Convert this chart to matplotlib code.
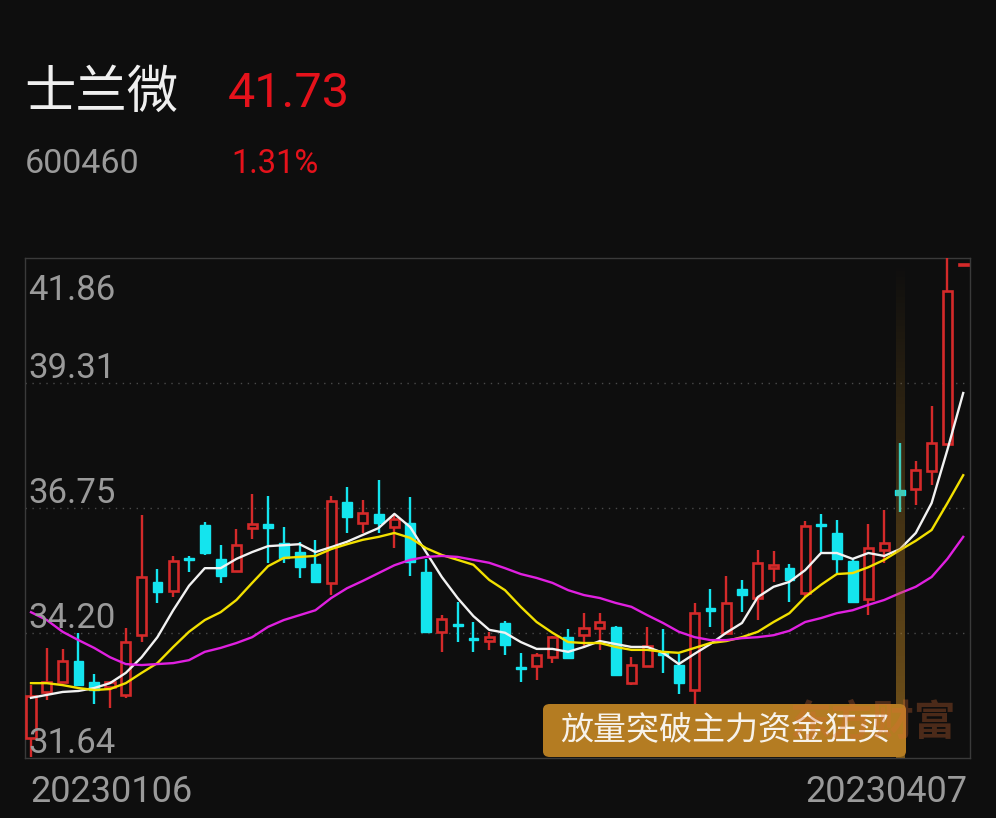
import numpy as np
import matplotlib.pyplot as plt
from matplotlib.patches import Rectangle, FancyBboxPatch

plt.rcParams['font.family'] = ['Roboto', 'Noto Sans CJK SC', 'DejaVu Sans']

# daily candles, 2023-01-06 .. 2023-04-07
opens = [32.05, 32.99, 33.19, 33.62, 33.19, 33.09, 32.93, 34.15, 35.24, 35.05,
         35.73, 36.40, 35.71, 35.46, 36.34, 36.42, 36.03, 35.85, 35.61, 35.22,
         36.87, 36.44, 36.63, 36.36, 36.44, 35.44, 34.22, 34.38, 34.09, 34.03,
         34.40, 33.50, 33.52, 33.70, 34.11, 34.15, 34.30, 34.32, 33.17, 33.52,
         33.79, 33.54, 33.03, 34.71, 34.20, 35.09, 34.91, 35.52, 35.52, 35.01,
         36.42, 36.24, 35.67, 34.89, 35.89, 37.12, 37.14, 37.51, 38.06, 41.71]
closes = [32.91, 33.19, 33.62, 33.13, 33.03, 33.19, 34.01, 35.34, 35.03, 35.67,
          35.69, 35.83, 35.36, 35.99, 36.42, 36.34, 35.73, 35.54, 35.24, 36.89,
          36.57, 36.65, 36.44, 36.53, 35.65, 34.22, 34.48, 34.34, 34.05, 34.11,
          33.95, 33.46, 33.75, 34.11, 33.68, 34.30, 34.42, 33.34, 33.54, 33.93,
          33.75, 33.17, 34.60, 34.64, 34.81, 34.97, 35.63, 35.59, 35.28, 36.38,
          36.38, 35.71, 34.83, 35.93, 36.03, 37.02, 37.53, 38.08, 41.19, 41.73]
highs = [33.13, 33.89, 33.87, 34.20, 33.36, 33.21, 34.30, 36.61, 35.50, 35.77,
         35.77, 36.46, 35.99, 36.32, 37.04, 37.00, 36.36, 36.06, 36.10, 37.00,
         37.18, 36.91, 37.32, 36.63, 36.98, 35.71, 34.56, 34.83, 34.42, 34.22,
         34.44, 33.79, 33.79, 34.13, 34.28, 34.60, 34.60, 34.34, 33.70, 34.32,
         34.28, 33.77, 34.81, 35.09, 35.36, 35.28, 35.89, 35.87, 35.61, 36.48,
         36.63, 36.50, 35.73, 36.42, 36.71, 38.08, 37.71, 38.83, 41.86, 41.74]
lows = [31.66, 32.83, 33.17, 33.11, 32.74, 32.66, 32.87, 34.01, 34.81, 34.93,
        35.44, 35.79, 35.22, 35.44, 36.12, 35.63, 35.63, 35.32, 35.22, 34.97,
        36.24, 36.24, 36.24, 35.93, 35.36, 34.20, 33.81, 34.01, 33.81, 33.85,
        33.75, 33.19, 33.23, 33.58, 33.66, 33.89, 33.85, 33.32, 33.13, 33.50,
        33.38, 32.95, 32.66, 34.32, 34.18, 34.62, 34.46, 35.24, 34.83, 34.93,
        35.85, 35.42, 34.81, 34.56, 35.63, 36.67, 36.81, 37.22, 38.04, 41.70]

ma5 = [32.87, 32.93, 32.99, 33.01, 33.07, 33.17, 33.38, 33.70, 34.11, 34.66,
       35.16, 35.52, 35.52, 35.71, 35.85, 35.97, 35.99, 36.01, 35.85, 35.95,
       36.06, 36.20, 36.34, 36.63, 36.36, 35.85, 35.34, 34.91, 34.54, 34.26,
       34.20, 34.01, 33.87, 33.87, 33.81, 33.91, 34.03, 33.97, 33.91, 33.91,
       33.79, 33.56, 33.77, 33.97, 34.20, 34.40, 34.93, 35.14, 35.24, 35.48,
       35.83, 35.83, 35.71, 35.83, 35.77, 35.91, 36.24, 36.85, 37.94, 39.10]
ma10 = [33.17, 33.17, 33.13, 33.07, 33.03, 33.05, 33.17, 33.38, 33.58, 33.91,
        34.22, 34.46, 34.62, 34.87, 35.22, 35.56, 35.73, 35.75, 35.77, 35.91,
        36.01, 36.10, 36.16, 36.24, 36.14, 35.93, 35.79, 35.69, 35.59, 35.28,
        35.07, 34.73, 34.42, 34.20, 34.01, 33.99, 33.99, 33.91, 33.85, 33.85,
        33.81, 33.79, 33.89, 33.99, 34.03, 34.11, 34.22, 34.42, 34.60, 34.93,
        35.18, 35.40, 35.42, 35.54, 35.69, 35.89, 36.08, 36.30, 36.85, 37.42]
ma20 = [34.62, 34.46, 34.22, 34.05, 33.89, 33.70, 33.56, 33.54, 33.56, 33.58,
        33.64, 33.81, 33.89, 33.99, 34.11, 34.32, 34.46, 34.56, 34.66, 34.91,
        35.11, 35.26, 35.42, 35.58, 35.69, 35.75, 35.77, 35.75, 35.69, 35.63,
        35.52, 35.40, 35.32, 35.22, 35.07, 34.97, 34.91, 34.81, 34.73, 34.56,
        34.40, 34.22, 34.11, 34.05, 34.05, 34.09, 34.11, 34.15, 34.24, 34.42,
        34.50, 34.60, 34.66, 34.77, 34.87, 35.01, 35.14, 35.34, 35.71, 36.16]

tick_values = [41.86, 39.31, 36.75, 34.20, 31.64]
tick_labels = ["41.86", "39.31", "36.75", "34.20", "31.64"]
highlight_day = 55

W, H = 996, 818
BG = "#0e0e0e"
RED = "#d42a2a"
CYAN = "#14e4ee"

fig = plt.figure(figsize=(W / 100, H / 100), dpi=100, facecolor=BG)
ax = fig.add_axes([25 / W, 1 - 758 / H, 945 / W, 500 / H])
ax.set_facecolor(BG)
ax.set_xticks([])
ax.set_yticks([])
for s in ax.spines.values():
    s.set_color("#3a3a3a")
    s.set_linewidth(1)

for v in tick_values[1:-1]:
    ax.axhline(v, color="#4a4a4a", lw=1, linestyle=(0, (1, 4)), zorder=1)

# candles
for i, (o, c, h, l) in enumerate(zip(opens, closes, highs, lows)):
    top, bot = max(o, c), min(o, c)
    if c >= o:
        ax.plot([i, i], [top, h], color=RED, lw=1.7, zorder=3, solid_capstyle="butt")
        ax.plot([i, i], [l, bot], color=RED, lw=1.7, zorder=3, solid_capstyle="butt")
        ax.add_patch(Rectangle((i - 0.29, bot), 0.58, max(top - bot, 0.02),
                               facecolor=BG, edgecolor=RED, lw=1.9, zorder=3))
    else:
        ax.plot([i, i], [l, h], color=CYAN, lw=1.7, zorder=3, solid_capstyle="butt")
        ax.add_patch(Rectangle((i - 0.31, bot), 0.62, max(top - bot, 0.03),
                               facecolor=CYAN, edgecolor=CYAN, lw=1.0, zorder=3))

x = np.arange(len(ma5))
ax.plot(x, ma5, color="#f2f2f2", lw=1.7, zorder=4)
ax.plot(x, ma10, color="#f2e000", lw=1.7, zorder=4)
ax.plot(x, ma20, color="#e020e0", lw=1.7, zorder=4)

# highlighted breakout day band
grad = np.zeros((200, 1, 4))
grad[:, 0, 0] = 0.74
grad[:, 0, 1] = 0.52
grad[:, 0, 2] = 0.14
grad[:, 0, 3] = np.linspace(0.6, 0.0, 200)
ax.imshow(grad, extent=[highlight_day - 0.28, highlight_day + 0.28, tick_values[-1], 41.8],
          origin="lower", aspect="auto", zorder=5)
ax.set_xlim(-0.38, 59.43)
ax.set_ylim(tick_values[-1], tick_values[0])

# price labels inside the plot
for v, lab in zip(tick_values, tick_labels):
    off = -30 if v == tick_values[0] else 3.6
    ax.annotate(lab, (0, v), xycoords=("axes fraction", "data"), xytext=(2.5, off),
                textcoords="offset points", ha="left", va="baseline",
                fontsize=25, color="#9a9a9a", zorder=6)


def fx(px):
    return px / W


def fy(py):
    return 1 - py / H


fig.text(fx(24), fy(108), "士兰微", fontsize=37, color="#efefef", va="baseline", ha="left")
fig.text(fx(228), fy(107), "41.73", fontsize=35, color="#e5121b", va="baseline", ha="left")
fig.text(fx(25), fy(173), "600460", fontsize=24.5, color="#9a9a9a", va="baseline", ha="left")
fig.text(fx(231), fy(173), "1.31%", fontsize=23.5, color="#e5121b", va="baseline", ha="left")

fig.text(fx(30), fy(802), "20230106", fontsize=26, color="#9a9a9a", va="baseline", ha="left")
fig.text(fx(967), fy(802), "20230407", fontsize=26, color="#9a9a9a", va="baseline", ha="right")

# signal tag
box = FancyBboxPatch((fx(543), fy(757)), fx(906 - 543), (757 - 704) / H,
                     boxstyle="round,pad=0,rounding_size=0.007",
                     transform=fig.transFigure, facecolor="#b47c22", edgecolor="none",
                     zorder=10)
fig.patches.append(box)
fig.text(fx(725), fy(731), "放量突破主力资金狂买", fontsize=23.8, color="#f7f2ea",
         ha="center", va="center", zorder=11)
fig.text(fx(956), fy(723), "东方财富", fontsize=30, color=(0.85, 0.42, 0.2), alpha=0.3,
         fontweight="bold", ha="right", va="center", zorder=12)

fig.savefig("out.png", dpi=100, facecolor=BG)
